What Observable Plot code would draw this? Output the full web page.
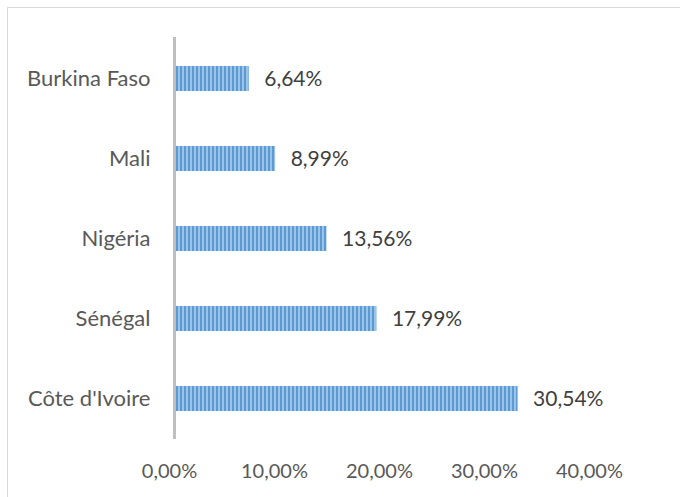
<!DOCTYPE html>
<html>
<head>
<meta charset="utf-8">
<script src="https://cdn.jsdelivr.net/npm/d3@7"></script>
<script src="https://cdn.jsdelivr.net/npm/@observablehq/plot@0.6"></script>
<style>
  html, body { margin: 0; padding: 0; background: #fff; }
  #wrap { position: relative; width: 680px; height: 497px; overflow: hidden; }
  #frame { position: absolute; left: 7px; top: 7px; width: 700px; height: 520px; border: 1px solid #d9d9d9; box-sizing: border-box; }
  #wrap svg { position: absolute; left: 0; top: 0; }
</style>
</head>
<body>
<div id="wrap"><div id="frame"></div></div>
<script>
const countries = ["Burkina Faso", "Mali", "Nigéria", "Sénégal", "Côte d'Ivoire"];
const shares = [6.64, 8.99, 13.56, 17.99, 30.54];
const xTicks = [0, 10, 20, 30, 40];

const data = countries.map((c, i) => ({country: c, value: shares[i]}));
const fmt = v => v.toFixed(2).replace(".", ",") + "%";
const font = "Lato, 'Open Sans', sans-serif";

const main = Plot.plot({
  width: 680,
  height: 497,
  marginLeft: 174,
  marginRight: 56,
  marginTop: 37,
  marginBottom: 58,
  style: {fontFamily: font, fontSize: "20px", color: "#595959", background: "transparent"},
  x: {domain: [0, 40], axis: null},
  y: {domain: countries, paddingInner: 0.69, paddingOuter: 0.345, align: 0.5, label: null},
  marks: [
    Plot.barX(data, {x: "value", y: "country", fill: "url(#stripes)"}),
    Plot.ruleX([0], {stroke: "#bfbfbf", strokeWidth: 3}),
    Plot.axisY({tickSize: 0, tickPadding: 24, fontSize: 22, fill: "#595959", label: null}),
    Plot.text(data, {x: "value", y: "country", text: d => fmt(d.value), textAnchor: "start", dx: 15, fontSize: 21, fill: "#404040"})
  ]
});

const defs = d3.select(main).insert("defs", ":first-child");
const pat = defs.append("pattern")
  .attr("id", "stripes").attr("patternUnits", "userSpaceOnUse")
  .attr("width", 4).attr("height", 10);
pat.append("rect").attr("width", 4).attr("height", 10).attr("fill", "#9dc3e6");
pat.append("rect").attr("x", 0).attr("width", 2).attr("height", 10).attr("fill", "#5b9bd5");

const axis = Plot.plot({
  width: 680,
  height: 497,
  marginLeft: 169,
  marginRight: 91,
  marginTop: 37,
  marginBottom: 42,
  style: {fontFamily: font, fontSize: "20px", color: "#595959", background: "transparent"},
  x: {domain: [0, 40], ticks: xTicks, tickFormat: fmt, tickSize: 0, tickPadding: 8, label: null},
  marks: [
    Plot.axisX({ticks: xTicks, tickFormat: fmt, tickSize: 0, tickPadding: 8, fontSize: 20, fill: "#595959", label: null})
  ]
});

document.getElementById("wrap").append(main, axis);
</script>
</body>
</html>
